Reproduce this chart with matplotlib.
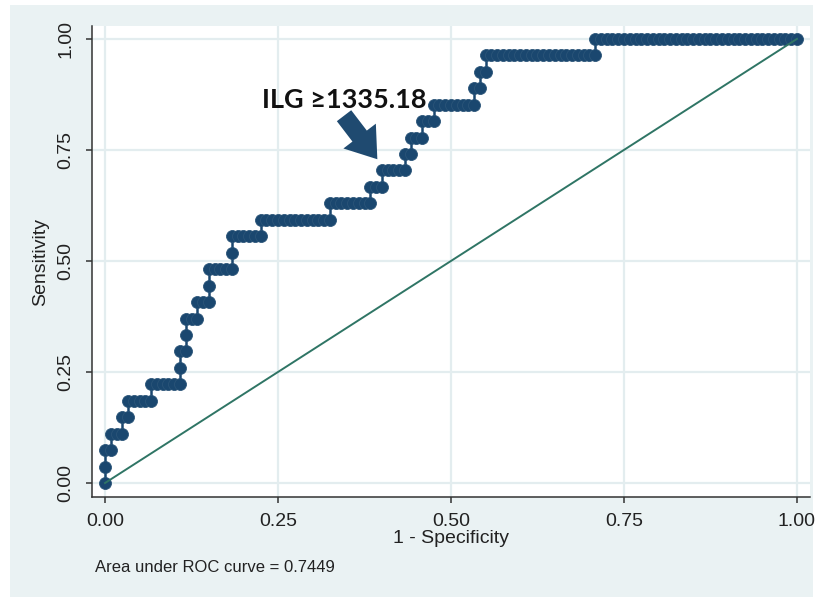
import numpy as np
import matplotlib.pyplot as plt
from matplotlib.patches import Rectangle

# ROC de ILG: 27 positivos, 120 negativos
n_pos = 27
n_neg = 120
# falsos positivos acumulados donde termina cada nivel de sensibilidad (0..27)
fp_fin = [0, 0, 1, 3, 4, 8, 13, 13, 14, 14, 16, 18, 18, 22, 22, 27,
          39, 46, 48, 52, 53, 55, 57, 64, 65, 66, 85, 120]
ticks = [0.0, 0.25, 0.5, 0.75, 1.0]
tick_txt = ['0.00', '0.25', '0.50', '0.75', '1.00']
auc = 0.7449
corte = 'ILG \u22651335.18'

# puntos de la curva, uno por umbral
fp_pts = [0]
tp_pts = [0]
fp = 0
for k, fin in enumerate(fp_fin):
    if k > 0:
        fp_pts.append(fp)
        tp_pts.append(k)
    while fp < fin:
        fp += 1
        fp_pts.append(fp)
        tp_pts.append(k)
x = np.array(fp_pts) / n_neg
y = np.array(tp_pts) / n_pos

navy = '#1a476f'
fondo = '#eaf2f3'
plt.rcParams['font.family'] = ['Liberation Sans', 'DejaVu Sans']

fig = plt.figure(figsize=(8.19, 5.97), dpi=100)
fig.add_artist(Rectangle((10/819, 0), (813-10)/819, (597-5)/597,
                         transform=fig.transFigure, fc=fondo, ec='none', zorder=-5))
ax = fig.add_axes([92/819, 100/597, 718/819, 471/597])
ax.set_zorder(2)
ax.set_facecolor('white')

ax.plot(x, y, '-o', color=navy, lw=1.8, ms=8.6, mec='#2a5478', mew=0.6,
        zorder=3, clip_on=False)
ax.plot([0, 1], [0, 1], color='#2f7565', lw=1.4, zorder=4, clip_on=False)

ax.set_xlim(-0.0188, 1.0188)
ax.set_ylim(-0.0315, 1.029)
ax.set_xticks(ticks)
ax.set_xticklabels(tick_txt)
ax.set_yticks(ticks)
ax.set_yticklabels(tick_txt, rotation=90, va='center')
ax.grid(True, color='#e3edef', lw=1.6, zorder=0)
ax.set_axisbelow(True)
for s in ['top', 'right']:
    ax.spines[s].set_visible(False)
for s in ['left', 'bottom']:
    ax.spines[s].set_color('#333333')
    ax.spines[s].set_linewidth(1.1)
ax.tick_params(direction='out', length=4.5, width=1.1, color='#333333',
               labelsize=14, labelcolor='#222222')
ax.tick_params(axis='x', pad=7)
ax.tick_params(axis='y', pad=8)
ax.set_xlabel('1 - Specificity', fontsize=14, color='#222222', labelpad=0)
ax.set_ylabel('Sensitivity', fontsize=14, color='#222222', labelpad=6)

ax.text(0.227, 0.845, corte, fontsize=19.5, fontweight='bold', color='#111111',
        family=['Lato', 'DejaVu Sans'], va='baseline', zorder=5)
ax.annotate('', xy=(0.396, 0.724), xytext=(0.343, 0.832),
            arrowprops=dict(arrowstyle='simple,head_length=1.0,head_width=1.4,tail_width=0.62',
                            mutation_scale=21, fc='#1f4a70', ec='none'), zorder=5)

fig.text(95/819, 25/597, 'Area under ROC curve = %.4f' % auc, fontsize=12,
         color='#222222', va='baseline')

plt.savefig('out.png', dpi=100)
